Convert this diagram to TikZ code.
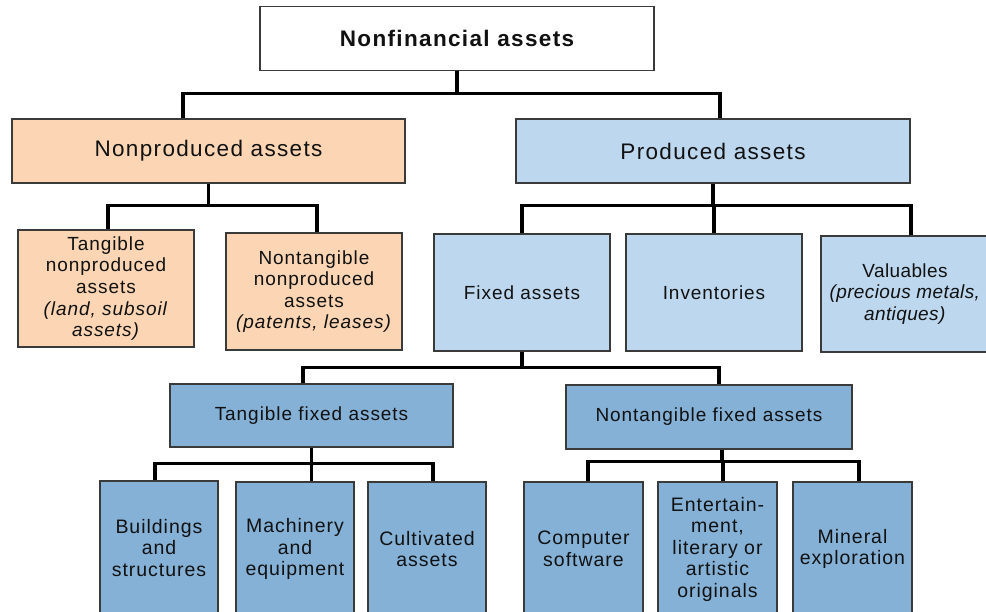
\documentclass[tikz,border=0pt]{standalone}
\usepackage{fontspec}
\setmainfont{Liberation Sans}
\newfontfamily\wideA[LetterSpace=6]{Liberation Sans}
\newfontfamily\wideB[LetterSpace=5]{Liberation Sans}
\newfontfamily\wideC[LetterSpace=2]{Liberation Sans}
\definecolor{peach}{HTML}{FCD5B4}
\definecolor{lblue}{HTML}{BDD7EE}
\definecolor{mblue}{HTML}{85B1D7}
\definecolor{bord}{HTML}{3A3A3A}
\definecolor{txt}{HTML}{111111}
\tikzset{
  box/.style={draw=bord, line width=1.3pt, inner sep=0pt, align=center, text=txt},
  topbox/.style={box, fill=white, font=\wideA\fontsize{22.5}{26}\selectfont\bfseries},
  lvtwo/.style={box, font=\wideA\fontsize{22.5}{26}\selectfont},
  lvthree/.style={box, font=\wideB\fontsize{19}{21.6}\selectfont},
  lvfour/.style={box, fill=mblue, font=\wideB\fontsize{19}{21.6}\selectfont},
  leaf/.style={box, fill=mblue, font=\wideB\fontsize{19.5}{21.5}\selectfont},
  conn/.style={draw=black, line width=3.2pt, line join=miter}
}
\begin{document}
\begin{tikzpicture}[x=1pt,y=-1pt]
\useasboundingbox (0,0) rectangle (986,611);
\clip (0,0) rectangle (986,611);
\fill[white] (0,0) rectangle (986,611);
% nodes
\node[topbox, minimum width=394pt, minimum height=64pt] (top) at (457,38.5) {Nonfinancial assets};
\node[lvtwo, fill=peach, minimum width=393pt, minimum height=64pt] (nonprod) at (208.5,151) {Nonproduced assets};
\node[lvtwo, fill=lblue, minimum width=394pt, minimum height=64pt] (prod) at (713,151) {Produced assets};
\node[lvthree, fill=peach, minimum width=176pt, minimum height=117pt] (tnp) at (106,288.5) {Tangible\\nonproduced\\assets\\\textit{(land, subsoil}\\\textit{assets)}};
\node[lvthree, fill=peach, minimum width=176pt, minimum height=117pt] (ntnp) at (314,291.5) {Nontangible\\nonproduced\\assets\\\textit{(patents, leases)}};
\node[lvthree, fill=lblue, minimum width=176pt, minimum height=117pt] (fixed) at (522,292.5) {Fixed assets};
\node[lvthree, fill=lblue, minimum width=176pt, minimum height=117pt] (inv) at (714,292.5) {Inventories};
\node[lvthree, fill=lblue, minimum width=176pt, minimum height=116pt] (val) at (909,294) {};
\node[lvthree, inner sep=0pt, draw=none, fill=none, font=\wideC\fontsize{19}{21.6}\selectfont] (valtxt) at (905,294) {Valuables\\\textit{(precious metals,}\\\textit{antiques)}};
\node[lvfour, minimum width=283pt, minimum height=63pt] (tfa) at (311.5,415.5) {Tangible fixed assets};
\node[lvfour, minimum width=286pt, minimum height=64pt] (ntfa) at (709,417) {Nontangible fixed assets};
\node[leaf, minimum width=118pt, minimum height=134pt] (bld) at (159,548) {Buildings\\and\\structures};
\node[leaf, minimum width=118pt, minimum height=134pt] (mach) at (295,549) {Machinery\\and\\equipment};
\node[leaf, minimum width=118pt, minimum height=134pt] (cult) at (427,549) {Cultivated\\assets};
\node[leaf, minimum width=119pt, minimum height=134pt] (comp) at (583.5,549) {Computer\\software};
\node[leaf, minimum width=119pt, minimum height=134pt] (ent) at (717.5,549) {Entertain-\\ment,\\literary or\\artistic\\originals};
\node[leaf, minimum width=119pt, minimum height=134pt] (minl) at (852.5,549) {Mineral\\exploration};
% connectors
\draw[conn] (top.south) -- ++(0,22) -| ([xshift=-25.5pt]nonprod.north);
\draw[conn] (top.south) -- ++(0,22) -| ([xshift=7pt]prod.north);
\draw[conn] (nonprod.south) -- ++(0,22) -| ([xshift=2pt]tnp.north);
\draw[conn] (nonprod.south) -- ++(0,22) -| ([xshift=3pt]ntnp.north);
\draw[conn] (prod.south) -- ++(0,22) -| (fixed.north);
\draw[conn] (prod.south) -- ++(0,22) -| (inv.north);
\draw[conn] (prod.south) -- ++(0,22) -| ([xshift=2pt]val.north);
\draw[conn] (fixed.south) -- ++(0,16) -| ([xshift=-8.5pt]tfa.north);
\draw[conn] (fixed.south) -- ++(0,16) -| ([xshift=10pt]ntfa.north);
\draw[conn] (tfa.south) -- ++(0,16) -| ([xshift=-4pt]bld.north);
\draw[conn] (tfa.south) -- ++(0,16) -| ([xshift=16.5pt]mach.north);
\draw[conn] (tfa.south) -- ++(0,16) -| ([xshift=6pt]cult.north);
\draw[conn] ([xshift=13pt]ntfa.south) -- ++(0,12) -| ([xshift=4.5pt]comp.north);
\draw[conn] ([xshift=13pt]ntfa.south) -- ++(0,12) -| ([xshift=5.5pt]ent.north);
\draw[conn] ([xshift=13pt]ntfa.south) -- ++(0,12) -| ([xshift=6.5pt]minl.north);
\end{tikzpicture}
\end{document}
